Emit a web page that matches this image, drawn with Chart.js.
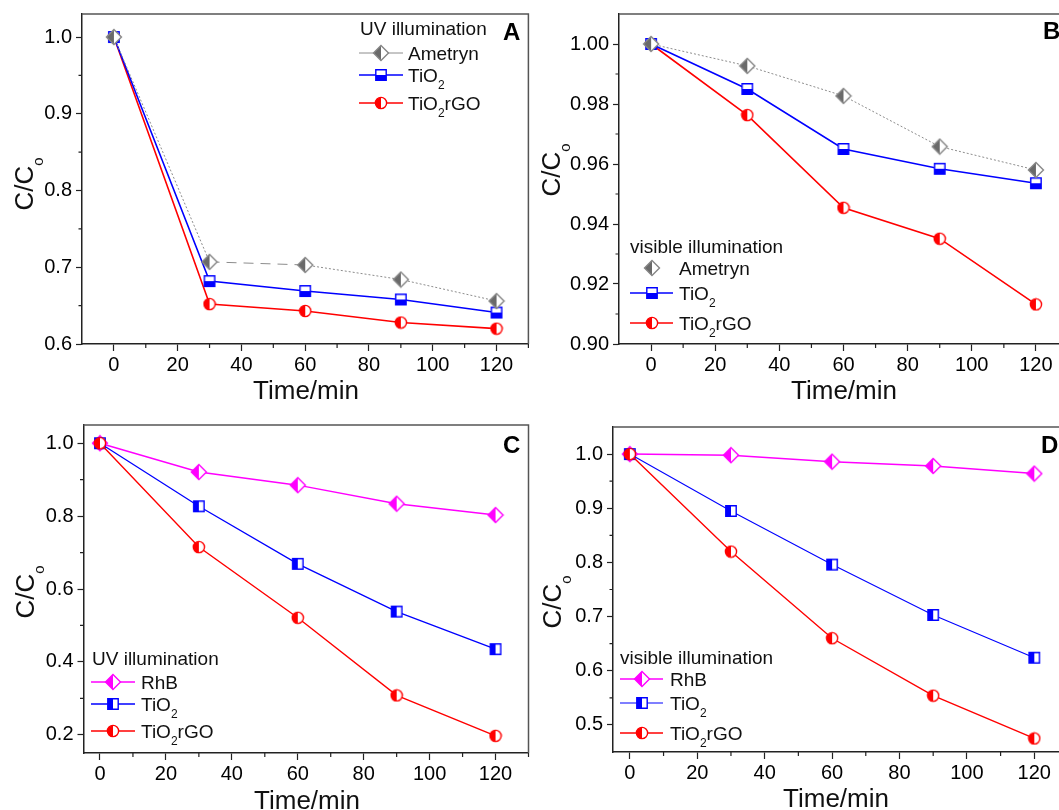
<!DOCTYPE html>
<html lang="en">
<head>
<meta charset="UTF-8">
<title>Photocatalytic degradation of ametryn and RhB</title>
<script src="https://cdn.jsdelivr.net/npm/chart.js"></script>
<style>
  body { margin: 0; background: #fff; overflow: hidden; }
  #figure { position: relative; width: 1059px; height: 810px; overflow: hidden; background: #fff; }
  #figure canvas { position: absolute; }
</style>
</head>
<body>
<div id="figure">
  <canvas id="chartA" width="535" height="405" style="left:0;top:0"></canvas>
  <canvas id="chartB" width="540" height="405" style="left:535px;top:0"></canvas>
  <canvas id="chartC" width="535" height="405" style="left:0;top:405px"></canvas>
  <canvas id="chartD" width="540" height="405" style="left:535px;top:405px"></canvas>
</div>
<script>
// sampling times, min
const times = [0, 30, 60, 90, 120];

// A: ametryn under UV light
const ametrynUV = [1.0, 0.707, 0.703, 0.684, 0.656];
const tio2AmeUV = [1.0, 0.682, 0.669, 0.658, 0.641];
const rgoAmeUV = [1.0, 0.652, 0.643, 0.628, 0.620];

// B: ametryn under visible light
const ametrynVis = [1.0, 0.9927, 0.9827, 0.9658, 0.958];
const tio2AmeVis = [1.0, 0.985, 0.965, 0.9584, 0.9536];
const rgoAmeVis = [1.0, 0.9763, 0.9454, 0.9351, 0.9132];

// C: RhB under UV light
const rhbUV = [1.0, 0.921, 0.885, 0.834, 0.803];
const tio2RhbUV = [1.0, 0.827, 0.669, 0.538, 0.435];
const rgoRhbUV = [1.0, 0.715, 0.521, 0.308, 0.197];

// D: RhB under visible light
const rhbVis = [1.0, 0.998, 0.986, 0.978, 0.964];
const tio2RhbVis = [1.0, 0.895, 0.796, 0.703, 0.624];
const rgoRhbVis = [1.0, 0.820, 0.660, 0.554, 0.475];

// axis ticks
const xMajor = [0, 20, 40, 60, 80, 100, 120];
const xMinor = [10, 30, 50, 70, 90, 110, 130];
const yMajorA = [0.6, 0.7, 0.8, 0.9, 1.0];
const yMinorA = [0.65, 0.75, 0.85, 0.95];
const yMajorB = [0.90, 0.92, 0.94, 0.96, 0.98, 1.00];
const yMinorB = [0.91, 0.93, 0.95, 0.97, 0.99];
const yMajorC = [0.2, 0.4, 0.6, 0.8, 1.0];
const yMinorC = [0.3, 0.5, 0.7, 0.9];
const yMajorD = [0.5, 0.6, 0.7, 0.8, 0.9, 1.0];
const yMinorD = [0.55, 0.65, 0.75, 0.85, 0.95];

const FONT = '"Liberation Sans", Arial, Helvetica, sans-serif';
Chart.defaults.font.family = FONT;

const GRAY = '#8c8c8c', BLUE = '#0000ff', RED = '#ff0000', MAGENTA = '#ff00ff';

// half-filled Origin style symbols
function marker(shape, color, split, fill) {
  const s = shape === 'diamond' ? 18 : 14;
  const c = document.createElement('canvas');
  c.width = c.height = s;
  const g = c.getContext('2d');
  const m = s / 2;
  const path = new Path2D();
  if (shape === 'diamond') {
    const r = 7.5;
    path.moveTo(m, m - r); path.lineTo(m + r, m); path.lineTo(m, m + r); path.lineTo(m - r, m); path.closePath();
  } else if (shape === 'square') {
    path.rect(m - 5.2, m - 5.2, 10.4, 10.4);
  } else {
    path.arc(m, m, 5.6, 0, Math.PI * 2);
  }
  g.fillStyle = '#fff';
  g.fill(path);
  g.save();
  g.clip(path);
  g.fillStyle = fill || color;
  if (split === 'left') g.fillRect(0, 0, m, s);
  else g.fillRect(0, m, s, s);
  g.restore();
  g.strokeStyle = color;
  g.lineWidth = 1.4;
  g.stroke(path);
  return c;
}

const mkAme = marker('diamond', '#858585', 'left', '#6a6a6a');
const mkRhb = marker('diamond', MAGENTA, 'left');
const mkSqBottom = marker('square', BLUE, 'bottom');
const mkSqLeft = marker('square', BLUE, 'left');
const mkCircle = marker('circle', RED, 'left');

function pts(values) {
  return times.map((t, i) => ({ x: t, y: values[i] }));
}

function series(label, values, color, width, symbol, order, extra) {
  return Object.assign({
    label: label,
    data: pts(values),
    showLine: true,
    borderColor: color,
    backgroundColor: color,
    borderWidth: width,
    pointStyle: symbol,
    pointRadius: 5,
    tension: 0,
    order: order
  }, extra || {});
}

// text with "_x" marking x as a subscript
function drawRich(ctx, text, x, y, size, subSize, drop, align) {
  const parts = text.split(/_(.)/);
  const font = i => (i % 2 ? subSize : size) + 'px ' + FONT;
  let total = 0;
  parts.forEach((t, i) => { ctx.font = font(i); total += ctx.measureText(t).width; });
  let cx = align === 'center' ? x - total / 2 : x;
  ctx.textAlign = 'left';
  ctx.textBaseline = 'alphabetic';
  parts.forEach((t, i) => {
    ctx.font = font(i);
    ctx.fillText(t, cx, i % 2 ? y + drop : y);
    cx += ctx.measureText(t).width;
  });
}

function decor(p) {
  return {
    id: 'decor',
    beforeDatasetsDraw(chart) {
      const ctx = chart.ctx, a = chart.chartArea;
      const xs = chart.scales.x, ys = chart.scales.y;
      ctx.save();
      // frame top and right
      ctx.strokeStyle = '#555';
      ctx.lineWidth = 1.5;
      ctx.beginPath();
      ctx.moveTo(a.left, a.top);
      ctx.lineTo(a.right, a.top);
      ctx.lineTo(a.right, a.bottom);
      ctx.stroke();
      // minor ticks
      ctx.strokeStyle = '#222';
      ctx.lineWidth = 1.2;
      ctx.beginPath();
      xMinor.forEach(v => {
        const px = xs.getPixelForValue(v);
        ctx.moveTo(px, a.bottom);
        ctx.lineTo(px, a.bottom + 4);
      });
      p.yMinor.forEach(v => {
        const py = ys.getPixelForValue(v);
        ctx.moveTo(a.left, py);
        ctx.lineTo(a.left - 3.5, py);
      });
      ctx.stroke();
      ctx.restore();
    },
    afterDraw(chart) {
      const ctx = chart.ctx;
      const lg = p.legend;
      ctx.save();
      ctx.translate(-p.box.left, -p.box.top);
      ctx.fillStyle = '#111';

      // legend
      ctx.font = '19px ' + FONT;
      ctx.textAlign = 'left';
      ctx.textBaseline = 'alphabetic';
      ctx.fillText(lg.title, lg.titleX, lg.titleY + 7);
      chart.data.datasets.forEach((ds, i) => {
        const y = lg.rows[i];
        if (!lg.noLine.includes(i)) {
          ctx.strokeStyle = ds.borderColor;
          ctx.lineWidth = ds.borderWidth;
          ctx.setLineDash(ds.legendDash || []);
          ctx.beginPath();
          ctx.moveTo(lg.lineX[0], y);
          ctx.lineTo(lg.lineX[1], y);
          ctx.stroke();
          ctx.setLineDash([]);
        }
        const img = ds.pointStyle;
        ctx.drawImage(img, lg.markX - img.width / 2, y - img.height / 2);
        ctx.fillStyle = '#111';
        drawRich(ctx, ds.label, lg.textX, y + 7, 19, 12, 7, 'left');
      });

      // axis titles
      drawRich(ctx, 'Time/min', p.timeTitle.x, p.timeTitle.y, 26, 15, 10, 'center');
      ctx.save();
      ctx.translate(p.ccTitle.x, p.ccTitle.y);
      ctx.rotate(-Math.PI / 2);
      drawRich(ctx, 'C/C_o', 0, 0, 26, 15, 10, 'center');
      ctx.restore();

      // panel letter
      ctx.font = 'bold 24px ' + FONT;
      ctx.fillStyle = '#000';
      ctx.fillText(p.letter.text, p.letter.x, p.letter.y);
      ctx.restore();
    }
  };
}

function makePanel(id, p, datasets) {
  const yAxisWidth = p.area.left - p.box.left;
  const xAxisHeight = p.box.top + p.box.height - p.area.bottom;
  new Chart(document.getElementById(id), {
    type: 'scatter',
    data: { datasets: datasets },
    options: {
      responsive: false,
      animation: false,
      events: [],
      layout: {
        padding: {
          left: 0,
          top: p.area.top - p.box.top,
          right: p.box.left + p.box.width - p.area.right,
          bottom: 0
        }
      },
      plugins: { legend: { display: false }, tooltip: { enabled: false } },
      scales: {
        x: {
          type: 'linear',
          min: p.xMin,
          max: 130,
          afterBuildTicks: s => { s.ticks = xMajor.map(v => ({ value: v })); },
          afterFit: s => { s.height = xAxisHeight; s.paddingLeft = 0; s.paddingRight = 0; },
          ticks: { color: '#000', font: { size: 20 }, padding: 2, autoSkip: false, maxRotation: 0 },
          grid: { drawOnChartArea: false, drawTicks: true, tickLength: 7, tickColor: '#222', tickWidth: 1.2 },
          border: { display: true, color: '#222', width: 1.5 }
        },
        y: {
          type: 'linear',
          min: p.yMin,
          max: p.yMax,
          afterBuildTicks: s => { s.ticks = p.yMajor.map(v => ({ value: v })); },
          afterFit: s => { s.width = yAxisWidth; s.paddingTop = 0; s.paddingBottom = 0; },
          ticks: {
            color: '#000',
            font: { size: 20 },
            padding: 4,
            autoSkip: false,
            callback: v => Number(v).toFixed(p.decimals)
          },
          grid: { drawOnChartArea: false, drawTicks: true, tickLength: 6, tickColor: '#222', tickWidth: 1.2 },
          border: { display: true, color: '#222', width: 1.5 }
        }
      }
    },
    plugins: [decor(p)]
  });
}

// A
makePanel('chartA', {
  box: { left: 0, top: 0, width: 535, height: 405 },
  area: { left: 82, top: 14, right: 530, bottom: 344 },
  xMin: -10, yMin: 0.6, yMax: 1.03, decimals: 1,
  yMajor: yMajorA, yMinor: yMinorA,
  legend: { title: 'UV illumination', titleX: 360, titleY: 28, rows: [53, 75, 103],
            lineX: [359, 403], markX: 381, textX: 408, noLine: [] },
  timeTitle: { x: 306, y: 399 },
  ccTitle: { x: 33, y: 184 },
  letter: { text: 'A', x: 503, y: 40 }
}, [
  series('Ametryn', ametrynUV, GRAY, 1, mkAme, 0, {
    legendDash: [],
    segment: { borderDash: c => c.p0DataIndex === 1 ? [10, 7] : [2, 2] }
  }),
  series('TiO_2', tio2AmeUV, BLUE, 1.6, mkSqBottom, 1),
  series('TiO_2rGO', rgoAmeUV, RED, 1.6, mkCircle, 2)
]);

// B
makePanel('chartB', {
  box: { left: 535, top: 0, width: 540, height: 405 },
  area: { left: 619, top: 14, right: 1068, bottom: 344 },
  xMin: -10, yMin: 0.90, yMax: 1.01, decimals: 2,
  yMajor: yMajorB, yMinor: yMinorB,
  legend: { title: 'visible illumination', titleX: 630, titleY: 246, rows: [268, 293, 323],
            lineX: [630, 673], markX: 652, textX: 679, noLine: [0] },
  timeTitle: { x: 844, y: 399 },
  ccTitle: { x: 560, y: 170 },
  letter: { text: 'B', x: 1043, y: 39 }
}, [
  series('Ametryn', ametrynVis, GRAY, 1, mkAme, 0, { borderDash: [2, 2] }),
  series('TiO_2', tio2AmeVis, BLUE, 1.6, mkSqBottom, 1),
  series('TiO_2rGO', rgoAmeVis, RED, 1.6, mkCircle, 2)
]);

// C
makePanel('chartC', {
  box: { left: 0, top: 405, width: 535, height: 405 },
  area: { left: 83.5, top: 425, right: 529.5, bottom: 753 },
  xMin: -5, yMin: 0.15, yMax: 1.05, decimals: 1,
  yMajor: yMajorC, yMinor: yMinorC,
  legend: { title: 'UV illumination', titleX: 92, titleY: 658, rows: [682, 704, 731],
            lineX: [91, 135], markX: 113, textX: 141, noLine: [] },
  timeTitle: { x: 307, y: 809 },
  ccTitle: { x: 33.5, y: 592 },
  letter: { text: 'C', x: 503, y: 453 }
}, [
  series('RhB', rhbUV, MAGENTA, 1.5, mkRhb, 2),
  series('TiO_2', tio2RhbUV, BLUE, 1.3, mkSqLeft, 1),
  series('TiO_2rGO', rgoRhbUV, RED, 1.4, mkCircle, 0)
]);

// D
makePanel('chartD', {
  box: { left: 535, top: 405, width: 540, height: 405 },
  area: { left: 613, top: 427, right: 1068, bottom: 752 },
  xMin: -5, yMin: 0.45, yMax: 1.05, decimals: 1,
  yMajor: yMajorD, yMinor: yMinorD,
  legend: { title: 'visible illumination', titleX: 620, titleY: 657, rows: [679, 703, 733],
            lineX: [620, 663], markX: 642, textX: 670, noLine: [] },
  timeTitle: { x: 836, y: 807 },
  ccTitle: { x: 561, y: 602 },
  letter: { text: 'D', x: 1041, y: 453 }
}, [
  series('RhB', rhbVis, MAGENTA, 1.5, mkRhb, 2),
  series('TiO_2', tio2RhbVis, BLUE, 1.1, mkSqLeft, 1),
  series('TiO_2rGO', rgoRhbVis, RED, 1.4, mkCircle, 0)
]);
</script>
</body>
</html>
